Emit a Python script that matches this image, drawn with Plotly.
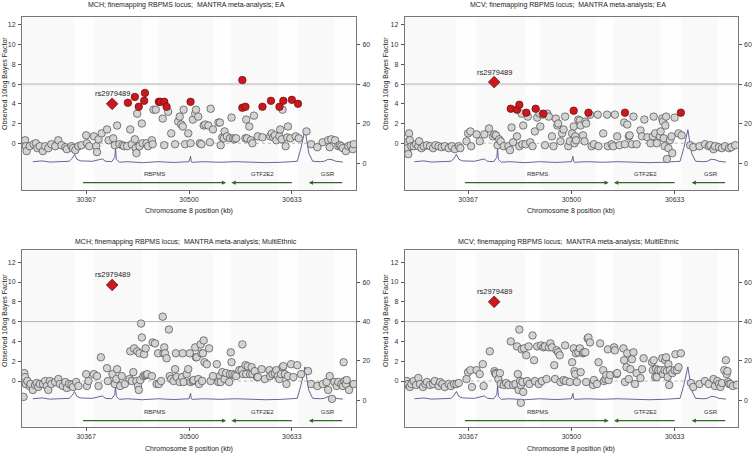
import plotly.graph_objects as go

# ---------------- data ----------------
titles = [
    "MCH; finemapping RBPMS locus;  MANTRA meta-analysis; EA",
    "MCV; finemapping RBPMS locus;  MANTRA meta-analysis; EA",
    "MCH; finemapping RBPMS locus;  MANTRA meta-analysis; MultiEthnic",
    "MCV; finemapping RBPMS locus;  MANTRA meta-analysis; MultiEthnic",
]
x_ticks = [30367, 30500, 30633]
y_ticks_left = [0, 2, 4, 6, 8, 10, 12]
y_ticks_right = [0, 20, 40, 60]
lead_snp = "rs2979489"
lead_pos = 30400.6
lead_bf = [4.0, 6.2, 9.7, 8.0]

genes = ["RBPMS", "GTF2E2", "GSR"]
gene_start = [30361, 30635, 30700]
gene_end = [30548, 30555, 30655]
gene_label_pos = [30456, 30595, 30680]

rec_pos = [30298, 30310, 30320, 30330, 30345, 30349, 30352, 30355, 30360, 30375, 30385, 30388,
           30392, 30400, 30404, 30405, 30406, 30410, 30420, 30440, 30460, 30480, 30500, 30502,
           30503, 30504, 30520, 30540, 30560, 30580, 30600, 30620, 30640, 30645, 30650, 30655,
           30660, 30670, 30675, 30680, 30685, 30690, 30699]
rec_rate = [0.8, 1.2, 0.6, 0.9, 1.0, 2.5, 4.5, 2.0, 1.2, 1.0, 1.8, 2.2,
            1.0, 0.8, 3.0, 7.5, 2.0, 0.5, 0.8, 0.3, 0.8, 0.4, 0.8, 3.5,
            0.8, 0.5, 0.8, 0.5, 0.8, 0.5, 0.3, 0.5, 1.0, 8.0, 17.0, 5.0,
            1.0, 0.8, 1.0, 2.0, 1.8, 1.0, 0.6]

# Panel 1: MCH EA
p1_pos = [30288, 30289, 30290, 30294, 30299, 30302, 30304, 30307, 30311, 30314, 30318, 30322, 30327,
          30331, 30335, 30340, 30342, 30348, 30350, 30353, 30357, 30361,
          30367, 30368, 30371, 30377, 30380, 30381, 30383, 30387, 30394, 30396, 30402, 30404, 30407,
          30410, 30414, 30416, 30420, 30424, 30426, 30430, 30431, 30432, 30433, 30436, 30439, 30440,
          30445, 30447, 30452, 30453, 30454, 30457, 30466, 30468, 30473, 30477, 30482, 30486, 30488,
          30490, 30492, 30493, 30495, 30499, 30502, 30505, 30508, 30509, 30512, 30514, 30516, 30519,
          30521, 30525, 30528, 30527, 30531, 30538, 30540, 30541, 30543, 30545, 30546, 30549, 30553,
          30555, 30557, 30559, 30561, 30573, 30574, 30575, 30578, 30580, 30582, 30584, 30589, 30595,
          30605, 30607, 30609, 30611, 30613, 30617, 30618, 30621, 30620, 30625, 30627, 30628, 30631,
          30638, 30642, 30652,
          30658, 30666, 30673, 30680, 30684, 30682, 30689, 30693, 30695, 30697, 30699, 30703, 30706,
          30709, 30712, 30713]
p1_bf = [0.3, -0.3, -0.8, -0.3, -0.1, 0.0, -0.5, -0.3, -0.8, -0.3, -0.5, -0.1, -0.3,
         0.3, -0.2, -0.4, -0.6, -0.3, -0.5, -0.7, -0.3, -0.2,
         0.8, 0.0, -0.3, 0.7, -0.3, -0.9, 0.4, 1.0, 1.4, 0.3, 0.5, -0.2, 1.8,
         -0.1, -0.2, -0.3, -0.3, 1.4, -0.1, 0.4, -0.5, -1.0, 3.0, -0.3, 2.0, 0.0,
         0.0, -0.3, 0.3, -0.1, 3.4, 3.4, 2.5, -0.2, 3.2, 1.0, -0.1, 2.2, 2.7,
         1.9, 1.7, 3.4, -0.1, 1.0, 0.0, 2.4, 3.0, 3.4, 2.7, 0.0, -0.1, 1.8,
         1.9, 1.8, 3.5, 0.1, 1.4, 2.1, 2.1, -0.2, 0.6, 0.5, 1.2, 0.7, 0.5,
         2.6, 0.5, 0.4, 0.5, 0.5, 2.4, 0.5, 1.7, 0.3, 0.0, 2.8, 0.7, 0.6,
         0.7, 1.0, 0.6, 0.8, 0.3, 0.7, 1.4, 3.4, 0.4, -0.3, 0.6, 1.7, 0.5,
         0.7, 0.5, 1.2,
         -0.1, -0.4, 0.1, 0.3, 0.4, -0.4, 0.3, -0.3, -0.2, -0.3, -0.5, -0.8, -0.3,
         -0.2, -0.6, -0.1]
p1_red_pos = [30421, 30430, 30435, 30442, 30443, 30461, 30463, 30468, 30471, 30502, 30569, 30569,
              30573, 30595, 30606, 30617, 30622, 30633, 30641]
p1_red_bf = [4.1, 4.7, 3.7, 4.3, 5.1, 4.2, 4.2, 4.2, 3.7, 4.2, 6.4, 3.6,
             3.7, 3.7, 4.3, 3.7, 4.3, 4.4, 4.0]

# Panel 2: MCV EA
p2_pos = [30288, 30289, 30290, 30291, 30292, 30294, 30297, 30300, 30303, 30304, 30307, 30310, 30314,
          30318, 30322, 30325, 30329, 30333, 30337, 30342, 30346, 30350, 30355, 30357,
          30365, 30367, 30370, 30371, 30378, 30382, 30388, 30394, 30399, 30401, 30403, 30405, 30407,
          30409, 30413, 30419, 30421, 30423, 30425, 30430, 30433, 30436, 30437, 30438, 30441, 30444,
          30447, 30450, 30453, 30456, 30459, 30460, 30463, 30466, 30469, 30471, 30475, 30477, 30480,
          30482, 30483, 30486, 30488, 30490, 30492, 30496, 30498, 30501, 30503, 30504, 30505, 30506,
          30509, 30511, 30512, 30515, 30517, 30518, 30519, 30524, 30526, 30529, 30534, 30535, 30541,
          30546, 30547, 30552, 30554, 30556, 30559, 30562, 30568, 30569, 30572, 30574, 30575, 30578,
          30580, 30584, 30589, 30591, 30594, 30598, 30602, 30605, 30606, 30608, 30610, 30614, 30615,
          30617, 30618, 30619, 30620, 30621, 30622, 30623, 30625, 30627, 30629, 30630, 30633, 30638,
          30642,
          30653, 30657, 30665, 30672, 30677, 30679, 30683, 30685, 30690, 30694, 30698, 30703, 30706,
          30711]
p2_bf = [0.1, -0.5, -1.1, 1.0, 0.3, -0.3, -0.3, -0.1, -0.3, 0.2, -0.5, -0.3, -0.2,
         -0.3, -0.5, -0.2, -0.3, -0.4, -0.3, -0.5, -0.3, -0.6, -0.3, -0.5,
         0.2, 1.0, 1.2, -0.3, 0.9, 0.2, 0.9, 1.5, 0.7, 0.9, 0.8, -0.2, 0.4,
         0.2, -0.3, -0.3, -0.7, 1.6, 0.1, 0.7, -0.3, 3.0, -0.1, 1.8, -0.1, 2.7,
         0.1, -0.3, 1.2, 2.6, 3.0, 1.7, 2.9, -0.2, 3.0, 2.7, 0.7, -0.3, 2.5,
         1.8, 2.0, 0.2, 1.0, 1.4, 2.7, -0.3, 0.2, 1.0, 1.7, 0.0, 0.7, 0.3,
         2.4, 2.3, 1.8, 0.8, 0.2, 2.2, 2.0, 2.9, -0.3, -0.1, 2.9, -0.3, 1.0,
         2.9, -0.3, -0.1, -0.3, 2.9, 0.7, -0.2, 2.1, -0.1, 1.9, 0.7, 0.8, -0.1,
         2.7, -0.1, 1.3, 0.7, 2.4, 0.6, 0.0, 0.7, 2.7, 1.0, 0.0, 0.7, 1.2,
         2.5, 2.2, 0.5, -0.3, 1.8, 2.7, -1.6, -0.5, 0.3, 0.7, -1.0, 2.6, 1.0,
         0.8,
         -0.2, -0.4, -0.3, -0.1, -0.3, -0.2, -0.6, -0.3, -0.4, -0.5, -0.3, -0.5, -0.4,
         -0.2]
p2_red_pos = [30422, 30430, 30433, 30442, 30454, 30464, 30503, 30522, 30569, 30641]
p2_red_bf = [3.5, 3.4, 3.9, 3.1, 3.5, 3.0, 3.3, 3.1, 3.1, 3.1]

# Panel 3: MCH MultiEthnic
p3_pos = [30286, 30287, 30288, 30289, 30291, 30294, 30295, 30298, 30301, 30303, 30305, 30307, 30311,
          30314, 30316, 30318, 30320, 30322, 30327, 30331, 30333, 30337, 30340, 30342, 30345, 30348,
          30350, 30354, 30357,
          30367, 30368, 30370, 30377, 30381, 30383, 30386, 30394, 30395, 30401, 30404, 30406, 30407,
          30411, 30413, 30417, 30423, 30424, 30426, 30428, 30429, 30432, 30433, 30434, 30435, 30436,
          30437, 30438, 30439, 30441, 30442, 30443, 30444, 30445, 30446, 30452, 30453, 30456, 30458,
          30460, 30461, 30464, 30466, 30467, 30468, 30469, 30471, 30474, 30475, 30477, 30480, 30482,
          30483, 30484, 30488, 30492, 30491, 30493, 30497, 30499, 30501, 30502, 30505, 30506, 30508,
          30509, 30510, 30512, 30513, 30515, 30516, 30517, 30518, 30519, 30520, 30523, 30526, 30528,
          30531, 30536, 30538, 30540, 30541, 30543, 30546, 30548, 30552, 30553, 30554, 30555, 30556,
          30559, 30561, 30565, 30568, 30569, 30570, 30573, 30574, 30576, 30579, 30581, 30582, 30585,
          30588, 30589, 30594, 30598, 30604, 30605, 30608, 30611, 30613, 30615, 30617, 30619, 30621,
          30622, 30624, 30626, 30628, 30632, 30635, 30640, 30645,
          30654, 30658, 30666, 30673, 30678, 30680, 30682, 30685, 30688, 30691, 30693, 30697, 30699,
          30700, 30701, 30703, 30704, 30707, 30713]
p3_bf = [-1.6, 0.8, 0.4, -0.3, 0.0, -0.5, -0.3, -0.9, -0.4, -0.2, -0.6, -0.3, -0.3,
         0.0, -0.5, -0.9, 0.0, -0.3, -0.1, 0.2, -0.3, -0.5, -0.1, -0.7, -0.3, -0.4,
         -0.6, -0.1, -0.5,
         0.7, -0.5, 0.0, 0.7, 0.5, -0.5, 2.4, 1.3, 0.0, 0.7, -0.3, 0.2, 1.2,
         -0.5, 0.5, -0.3, 0.2, 3.0, 0.0, 0.9, 3.3, 0.0, 3.0, -0.5, -0.9, 2.8,
         0.1, 5.8, 4.4, 0.5, 2.7, 0.6, 3.3, 0.6, 0.7, 0.5, 3.9, 3.8, -0.3,
         2.8, -0.3, 0.0, 6.5, 2.8, 3.4, 2.8, 2.3, 5.2, 0.5, 0.2, 0.0, 1.2,
         2.8, 0.4, -0.1, 2.8, 0.4, -0.1, 0.7, 1.2, 2.8, -0.1, 0.0, 0.1, 3.4,
         2.4, 2.4, 0.2, -0.3, 3.7, 2.8, 0.0, 2.8, 4.1, 1.9, 1.7, 3.3, 0.0,
         0.5, 1.7, -0.1, 0.5, -0.1, 0.9, 0.2, 0.8, -0.1, 0.7, 2.9, 1.9, 0.7,
         0.6, 0.5, 1.1, 1.1, 3.7, 0.7, 1.6, 0.7, 1.5, 0.7, 1.4, 0.7, 1.0,
         0.4, 0.4, 1.2, 0.2, 1.1, 0.5, 0.7, 0.8, 1.1, 0.5, 0.2, 0.7, 1.4,
         1.5, 0.7, -0.3, 0.5, 1.7, 0.4, 1.6, 0.7,
         1.0, -0.3, -0.5, -0.3, -0.1, -0.9, 0.5, -1.8, -0.1, -0.5, -0.1, -0.3, -0.5,
         1.9, 0.0, -0.3, 0.1, -0.9, -0.3]

# Panel 4: MCV MultiEthnic
p4_pos = [30288, 30289, 30290, 30292, 30294, 30297, 30300, 30303, 30305, 30309, 30312, 30314, 30318,
          30322, 30324, 30329, 30331, 30334, 30337, 30342, 30345, 30349, 30352, 30355,
          30365, 30367, 30370, 30372, 30378, 30382, 30386, 30387, 30395, 30401, 30402, 30403, 30406,
          30408, 30409, 30413, 30416, 30419, 30422, 30425, 30428, 30430, 30431, 30432, 30433, 30434,
          30435, 30435, 30436, 30437, 30438, 30439, 30442, 30443, 30445, 30446, 30450, 30452, 30453,
          30456, 30458, 30461, 30462, 30464, 30466, 30468, 30471, 30473, 30475, 30478, 30479, 30481,
          30483, 30485, 30486, 30490, 30492, 30493, 30498, 30501, 30503, 30504, 30505, 30506, 30507,
          30509, 30511, 30512, 30515, 30516, 30518, 30519, 30521, 30522, 30524, 30528, 30529, 30533,
          30535, 30537, 30541, 30542, 30544, 30545, 30547, 30548, 30550, 30555, 30556, 30558, 30559,
          30567, 30568, 30569, 30571, 30572, 30574, 30576, 30578, 30580, 30582, 30584, 30589, 30591,
          30593, 30604, 30605, 30606, 30608, 30609, 30610, 30612, 30615, 30617, 30618, 30620, 30621,
          30622, 30623, 30624, 30625, 30626, 30627, 30630, 30633, 30634, 30636, 30638, 30641,
          30654, 30657, 30665, 30672, 30677, 30683, 30685, 30688, 30690, 30692, 30694, 30697, 30699,
          30700, 30701, 30702, 30703, 30705, 30708, 30713]
p4_bf = [0.0, -0.4, -0.3, -0.6, -0.3, 0.0, -0.4, 0.3, -0.3, -0.6, -0.3, -0.1, -0.4,
         -0.3, 0.0, -0.5, -0.1, -0.3, -0.6, -0.3, -0.5, -0.3, -0.3, -0.2,
         0.2, 0.9, 1.1, -0.6, 1.1, 0.7, 1.7, -0.5, 3.0, 1.0, 0.8, 0.7, 0.2,
         0.8, -0.3, -0.4, -0.2, -0.4, 4.0, -0.4, -0.3, 3.5, 0.7, -0.9, 5.2, 0.0,
         -0.4, -2.2, 3.2, -0.1, -1.1, 3.3, 2.6, 0.0, 3.5, -0.3, 4.6, 2.1, 0.0,
         3.5, -0.3, 3.6, 0.0, 3.4, 3.5, 0.2, 3.4, 3.8, 3.4, 1.6, 0.2, 3.1,
         2.9, 2.6, -0.1, 0.1, 3.6, 0.0, -0.1, 1.9, 3.3, 1.0, 0.7, 2.8, -0.1,
         2.9, 3.3, 0.9, 2.8, 2.9, 2.9, -0.1, 4.3, 4.4, 3.9, -0.4, 0.1, -0.3,
         1.9, 3.8, 1.1, 0.0, 0.2, 0.6, 3.2, 0.1, 0.6, 3.4, 3.1, 0.7, 0.8,
         3.3, 2.1, -0.1, 1.4, 2.8, 0.2, 1.2, 2.2, 2.9, -0.3, 0.8, 0.3, 1.2,
         2.3, 1.9, 1.1, 2.1, 0.4, 1.2, 0.4, 1.1, 1.1, 2.3, 0.7, 1.1, 2.1,
         2.4, 1.0, 0.4, 1.7, -0.4, 1.1, 0.8, 1.1, 2.7, 1.1, 1.4, 2.8,
         -0.2, -0.6, -0.3, 0.0, -0.3, 0.2, -0.5, 0.0, -0.3, -0.6, -0.2, 1.1, 2.1,
         0.7, 1.0, -0.1, -0.3, -0.3, -0.5, -0.4]

panel_gray_pos = [p1_pos, p2_pos, p3_pos, p4_pos]
panel_gray_bf = [p1_bf, p2_bf, p3_bf, p4_bf]
panel_red_pos = [p1_red_pos, p2_red_pos, [], []]
panel_red_bf = [p1_red_bf, p2_red_bf, [], []]

# ---------------- layout geometry ----------------
W, H = 754, 454
xdom = [[22 / W, 356 / W], [404.7 / W, 737.7 / W], [22 / W, 356 / W], [404.7 / W, 737.7 / W]]
ydom = [[1 - 190 / H, 1 - 17 / H], [1 - 190 / H, 1 - 17 / H],
        [1 - 427 / H, 1 - 250.3 / H], [1 - 427 / H, 1 - 250.3 / H]]
xrng = [[30284, 30716], [30285.4, 30714.2], [30284, 30716], [30285.4, 30714.2]]
yl_rng = [[-4.74, 12.8], [-4.74, 12.8], [-4.64, 13.2], [-4.64, 13.2]]
yr_rng = [[-13.57, 74.2], [-13.57, 74.2], [-13.55, 76.2], [-13.55, 76.2]]
title_y = [1 - 5 / H, 1 - 5 / H, 1 - 242 / H, 1 - 242 / H]
xtitle_y = [1 - 211 / H, 1 - 211 / H, 1 - 448.5 / H, 1 - 448.5 / H]
ytitle_x = [5 / W, 386 / W, 5 / W, 386 / W]
ytitle_y = [1 - 84 / H, 1 - 84 / H, 1 - 321 / H, 1 - 321 / H]
line6 = [dict(color="#d6d6d6", width=2.2), dict(color="#d6d6d6", width=2.2),
         dict(color="#b4b4b4", width=1), dict(color="#b4b4b4", width=1)]
white_bands = [[30352, 30377], [30440, 30460], [30531, 30554], [30615, 30641], [30688, 30716]]

FONT = "Liberation Sans, Arial, sans-serif"
fig = go.Figure()
layout = dict(width=W, height=H, margin=dict(l=0, r=0, t=0, b=0), autosize=False,
              paper_bgcolor="white", plot_bgcolor="#f9f9f9", showlegend=False,
              font=dict(family=FONT, size=7, color="#333"))
shapes, annots = [], []

for i in range(4):
    xa = "x" if i == 0 else f"x{i+1}"
    xk = "xaxis" if i == 0 else f"xaxis{i+1}"
    nr, nl = 2 * i + 1, 2 * i + 2          # right (base), left (overlay, drawn on top)
    yr = "y" if nr == 1 else f"y{nr}"
    yl = f"y{nl}"
    layout[xk] = dict(domain=xdom[i], range=xrng[i], anchor=yr, tickvals=x_ticks,
                      ticktext=[str(v) for v in x_ticks], ticks="outside", ticklen=3,
                      tickcolor="#555", showline=True, mirror=True, linecolor="#777",
                      linewidth=1, showgrid=False, zeroline=False,
                      tickfont=dict(size=7, color="#333"))
    layout["yaxis" if nr == 1 else f"yaxis{nr}"] = dict(
        domain=ydom[i], range=yr_rng[i], anchor=xa, side="right", tickvals=y_ticks_right,
        ticks="outside", ticklen=3, tickcolor="#555", showline=True, linecolor="#777",
        linewidth=1, showgrid=False, zeroline=False, ticklabelstandoff=1,
        tickfont=dict(size=7, color="#333"))
    layout[f"yaxis{nl}"] = dict(
        domain=ydom[i], range=yl_rng[i], anchor=xa, overlaying=yr, side="left",
        tickvals=y_ticks_left, ticks="outside", ticklen=3, tickcolor="#555",
        showline=True, linecolor="#777", linewidth=1, showgrid=False, zeroline=False,
        ticklabelstandoff=1, tickfont=dict(size=7, color="#333"))

    # background bands
    for b0, b1 in white_bands:
        shapes.append(dict(type="rect", xref=xa, yref=f"{yl} domain", x0=b0, x1=b1, y0=0, y1=1,
                           fillcolor="#fefefe", line=dict(width=0), layer="below"))
    shapes.append(dict(type="line", xref=f"{xa} domain", yref=yl, x0=0, x1=1, y0=6, y1=6,
                       line=line6[i], layer="below"))
    shapes.append(dict(type="line", xref=f"{xa} domain", yref=yl, x0=0, x1=1, y0=0, y1=0,
                       line=dict(color="#a8a8a8", width=0.8, dash="dot"), layer="below"))

    # recombination rate
    fig.add_trace(go.Scatter(x=rec_pos, y=rec_rate, mode="lines", xaxis=xa, yaxis=yr,
                             line=dict(color="#55558f", width=0.9), hoverinfo="skip"))
    # SNPs
    fig.add_trace(go.Scatter(x=panel_gray_pos[i], y=panel_gray_bf[i], mode="markers",
                             xaxis=xa, yaxis=yl,
                             marker=dict(size=7.5, color="#d3d3d3",
                                         line=dict(color="#4a4a4a", width=0.7))))
    if panel_red_pos[i]:
        fig.add_trace(go.Scatter(x=panel_red_pos[i], y=panel_red_bf[i], mode="markers",
                                 xaxis=xa, yaxis=yl,
                                 marker=dict(size=7.5, color="#c8191e",
                                             line=dict(color="#6e0c0c", width=0.7))))
    fig.add_trace(go.Scatter(x=[lead_pos], y=[lead_bf[i]], mode="markers", xaxis=xa, yaxis=yl,
                             marker=dict(symbol="diamond", size=9, color="#c8191e",
                                         line=dict(color="#6e0c0c", width=0.7))))
    annots.append(dict(x=lead_pos, y=lead_bf[i], xref=xa, yref=yl, text=lead_snp,
                       showarrow=False, yshift=10, font=dict(size=7.5, color="#222")))

    # genes
    for g, s, e, lp in zip(genes, gene_start, gene_end, gene_label_pos):
        annots.append(dict(x=e, y=-4.0, ax=s, ay=-4.0, xref=xa, yref=yl, axref=xa, ayref=yl,
                           text="", showarrow=True, arrowhead=2, arrowsize=0.7,
                           arrowwidth=1.2, arrowcolor="#2f6a22"))
        annots.append(dict(x=lp, y=-3.15, xref=xa, yref=yl, text=g, showarrow=False,
                           font=dict(size=6, color="#333")))

    cx = (xdom[i][0] + xdom[i][1]) / 2
    annots.append(dict(x=cx - 3 / W, y=title_y[i], xref="paper", yref="paper", text=titles[i],
                       showarrow=False, font=dict(size=7, color="#222"),
                       xanchor="center", yanchor="middle"))
    annots.append(dict(x=cx, y=xtitle_y[i], xref="paper", yref="paper",
                       text="Chromosome 8 position (kb)", showarrow=False,
                       font=dict(size=7, color="#222"), xanchor="center", yanchor="middle"))
    annots.append(dict(x=ytitle_x[i], y=ytitle_y[i], xref="paper", yref="paper",
                       text="Observed 10log Bayes Factor", textangle=-90, showarrow=False,
                       font=dict(size=7, color="#222"), xanchor="center", yanchor="middle"))

layout["shapes"] = shapes
layout["annotations"] = annots
fig.update_layout(**layout)
fig.write_html("out.html", config={"displayModeBar": False},
               post_script="document.body.style.margin='0px';")
